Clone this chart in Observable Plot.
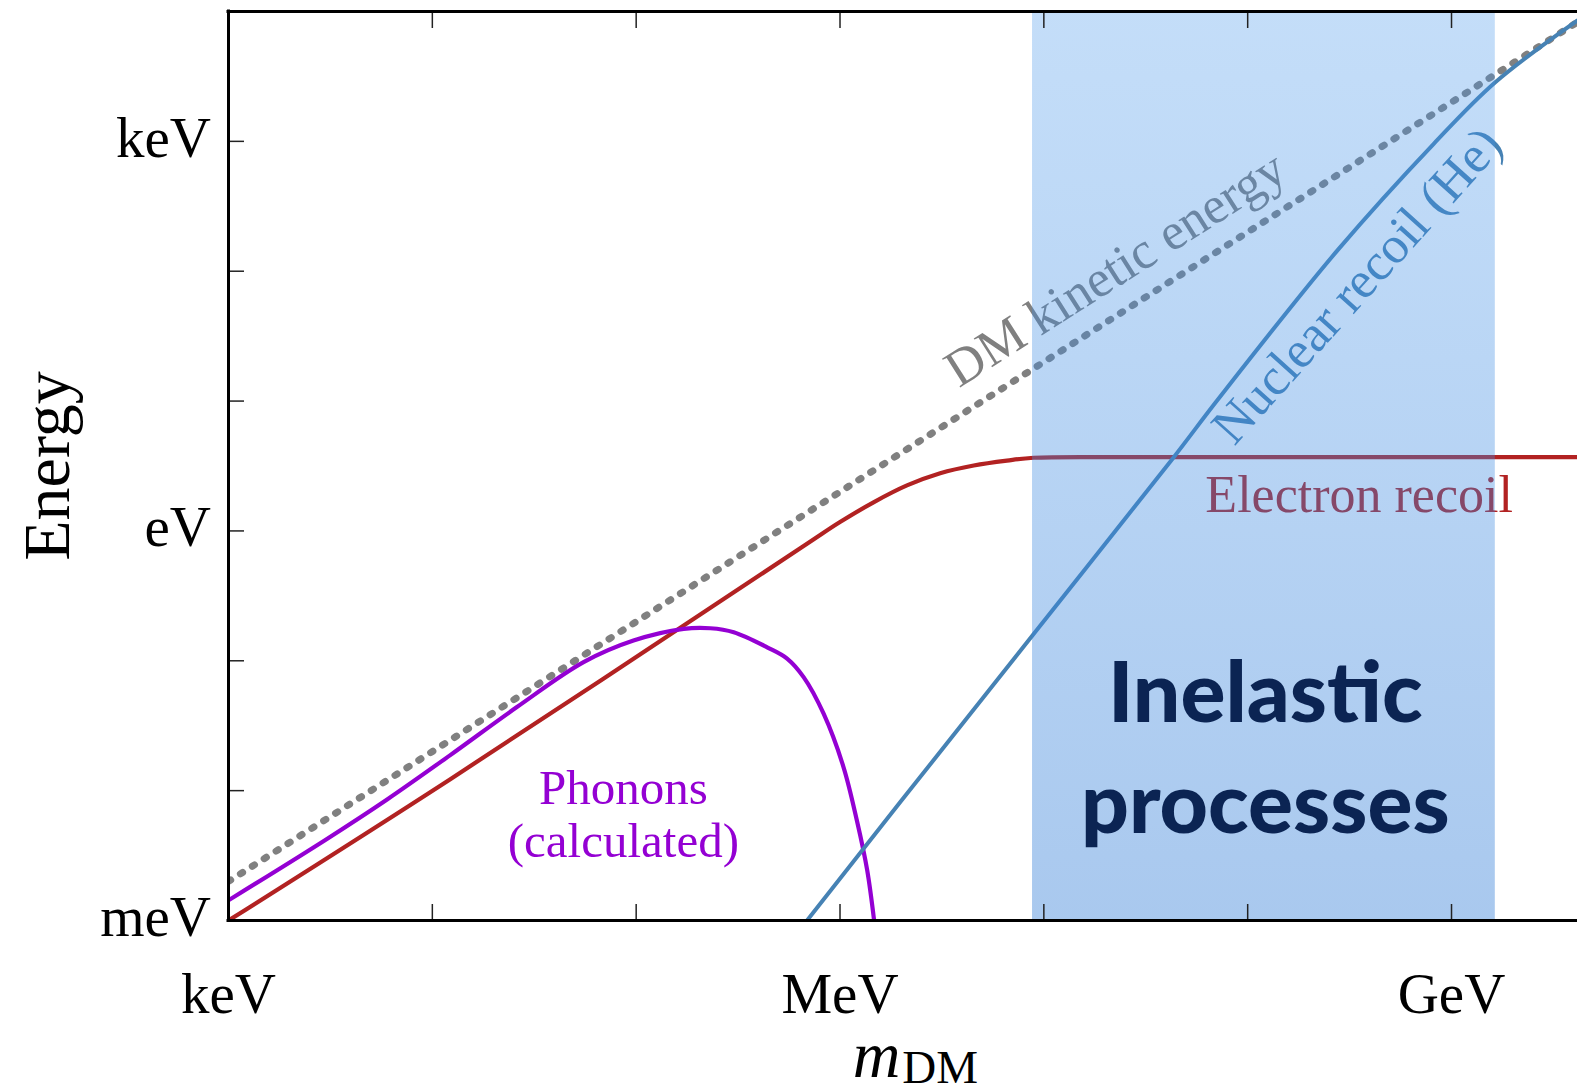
<!DOCTYPE html>
<html>
<head>
<meta charset="utf-8">
<script src="https://cdn.jsdelivr.net/npm/d3@7"></script>
<script src="https://cdn.jsdelivr.net/npm/@observablehq/plot@0.6"></script>
<style>
  html, body { margin: 0; padding: 0; background: #ffffff; }
  #chart svg { display: block; }
</style>
</head>
<body>
<div id="chart"></div>
<script>
// ---- Axis ranges and ticks (eV) ----
const massRange = [1e3, 4.15e9];
const energyRange = [1e-3, 1e4];
const xTickValues = [1e3, 1e6, 1e9];
const xTickLabels = ["keV", "MeV", "GeV"];
const yTickValues = [1e-3, 1, 1e3];
const yTickLabels = ["meV", "eV", "keV"];
const xDecadeTicks = [1e3, 1e4, 1e5, 1e6, 1e7, 1e8, 1e9];
const yDecadeTicks = [1e-3, 1e-2, 1e-1, 1, 1e1, 1e2, 1e3, 1e4];

// ---- Curves: DM mass (eV) vs energy (eV) ----
const dmMass = [1e3, 1e6, 4.15e9];
const dmEnergy = [2.0e-3, 2.0, 8.3e3];

const electronMass = [1e3, 1.22e4, 6.89e5, 1.0e6, 1.46e6, 2.13e6, 3.10e6, 4.53e6, 6.59e6, 8.91e6, 3.0e7, 4.15e9];
const electronEnergy = [1e-3, 1.22e-2, 0.796, 1.17, 1.66, 2.24, 2.78, 3.19, 3.48, 3.66, 3.70, 3.70];

const phononMass = [1e3, 3e3, 6e3, 1.22e4, 2.60e4, 5.52e4, 9.70e4, 1.71e5, 2.31e5, 3.01e5, 4.39e5, 5.50e5, 6.63e5, 8.31e5, 1.04e6, 1.21e6, 1.36e6, 1.51e6];
const phononEnergy = [1.43e-3, 4.19e-3, 8.55e-3, 1.87e-2, 4.40e-2, 9.75e-2, 0.143, 0.176, 0.178, 0.166, 0.127, 0.104, 7.48e-2, 3.91e-2, 1.52e-2, 5.89e-3, 2.43e-3, 7.0e-4];

const nuclearMass = [6.89e5, 1.98e6, 8.81e6, 4.34e7, 7.08e7, 2.75e8, 8.18e8, 1.64e9, 4.15e9];
const nuclearEnergy = [1e-3, 8.2e-3, 0.157, 3.70, 10.1, 144, 957, 2.85e3, 8.53e3];

// Inelastic region (DM mass, eV)
const inelasticRange = [8.8e6, 1.64e9];

// ---- Build tables ----
const zip = (xs, ys) => xs.map((x, i) => ({m: x, E: ys[i]}));
const dmData = zip(dmMass, dmEnergy);
const electronData = zip(electronMass, electronEnergy);
const phononData = zip(phononMass, phononEnergy);
const nuclearData = zip(nuclearMass, nuclearEnergy);

const serif = "'Liberation Serif', 'Times New Roman', serif";
const sans = "Lato, 'Open Sans', sans-serif";

const gradientDefs = () => {
  const defs = d3.create("svg:defs");
  const g = defs.append("linearGradient").attr("id", "inelasticShade")
    .attr("x1", 0).attr("y1", 0).attr("x2", 0).attr("y2", 1);
  g.append("stop").attr("offset", "0%").attr("stop-color", "rgb(70,150,235)").attr("stop-opacity", 0.32);
  g.append("stop").attr("offset", "100%").attr("stop-color", "rgb(50,125,215)").attr("stop-opacity", 0.42);
  return defs.node();
};

const chart = Plot.plot({
  width: 1577,
  height: 1092,
  marginLeft: 228,
  marginRight: 0,
  marginTop: 11,
  marginBottom: 172,
  style: {background: "white", color: "black", fontFamily: serif},
  x: {type: "log", domain: massRange},
  y: {type: "log", domain: energyRange},
  marks: [
    gradientDefs,
    // curves
    Plot.line(dmData, {x: "m", y: "E", stroke: "#808080", strokeWidth: 7, strokeDasharray: "2.6,11.5", clip: true}),
    Plot.line(electronData, {x: "m", y: "E", stroke: "#b22222", strokeWidth: 4.2, curve: "catmull-rom", clip: true}),
    Plot.line(phononData, {x: "m", y: "E", stroke: "#9400d3", strokeWidth: 4.2, curve: "catmull-rom", clip: true}),
    Plot.line(nuclearData, {x: "m", y: "E", stroke: "#4682b4", strokeWidth: 4, curve: "catmull-rom", clip: true}),
    // curve labels
    Plot.text(["DM kinetic energy"], {x: () => 2.24e7, y: () => 104, text: d => d, rotate: -32.5,
      fill: "#808080", fontSize: 52, fontFamily: serif, textAnchor: "middle", lineAnchor: "middle"}),
    Plot.text(["Nuclear recoil (He)"], {x: () => 3.44e8, y: () => 77.6, text: d => d, rotate: -48,
      fill: "#4682b4", fontSize: 52, fontFamily: serif, textAnchor: "middle", lineAnchor: "middle"}),
    Plot.text(["Electron recoil"], {x: () => 6.2e7, y: () => 1.39, text: d => d,
      fill: "#b22222", fontSize: 52, fontFamily: serif, textAnchor: "start", lineAnchor: "bottom"}),
    Plot.text(["Phonons"], {x: () => 8.65e4, y: () => 7.96e-3, text: d => d,
      fill: "#9400d3", fontSize: 49, fontFamily: serif, textAnchor: "middle", lineAnchor: "bottom"}),
    Plot.text(["(calculated)"], {x: () => 8.65e4, y: () => 3.11e-3, text: d => d,
      fill: "#9400d3", fontSize: 49, fontFamily: serif, textAnchor: "middle", lineAnchor: "bottom"}),
    // shaded inelastic region
    Plot.rect([inelasticRange], {x1: d => d[0], x2: d => d[1], fill: "url(#inelasticShade)"}),
    Plot.text(["Inelastic\nprocesses"], {x: () => 1.22e8, y: () => 4.76e-3, text: d => d,
      fill: "#0b2453", fontSize: 84, fontWeight: 900, fontFamily: sans, textAnchor: "middle", lineAnchor: "bottom", lineHeight: 1.32}),
    // inward ticks
    Plot.axisX(xDecadeTicks, {anchor: "bottom", label: null, tickSize: -16, tickFormat: () => "", strokeWidth: 1.5, stroke: "#222"}),
    Plot.axisX(xDecadeTicks, {anchor: "top", label: null, tickSize: -16, tickFormat: () => "", strokeWidth: 1.5, stroke: "#222"}),
    Plot.axisY(yDecadeTicks, {anchor: "left", label: null, tickSize: -16, tickFormat: () => "", strokeWidth: 1.5, stroke: "#222"}),
    // frame
    Plot.ruleY([energyRange[0]], {stroke: "black", strokeWidth: 3, strokeLinecap: "square"}),
    Plot.ruleY([energyRange[1]], {stroke: "black", strokeWidth: 3, strokeLinecap: "square"}),
    Plot.ruleX([massRange[0]], {stroke: "black", strokeWidth: 3, strokeLinecap: "square"}),
    // tick labels
    Plot.axisX(xTickValues, {anchor: "bottom", label: null, tickSize: 0, tickPadding: 52, fontSize: 57, fontFamily: serif,
      tickFormat: d => xTickLabels[xTickValues.indexOf(d)], fill: "black"}),
    Plot.axisY(yTickValues, {anchor: "left", label: null, tickSize: 0, tickPadding: 17.5, fontSize: 57, fontFamily: serif,
      tickFormat: d => yTickLabels[yTickValues.indexOf(d)], fill: "black", dy: -3}),
    // axis titles
    Plot.text(["Energy"], {frameAnchor: "left", text: d => d, rotate: -90, dx: -160, fontSize: 66,
      fontFamily: serif, fill: "black", textAnchor: "middle", lineAnchor: "bottom"}),
    Plot.text(["m"], {frameAnchor: "bottom", text: d => d, dx: -2.5, dy: 156, fontSize: 66, fontStyle: "italic",
      fontFamily: serif, fill: "black", textAnchor: "end", lineAnchor: "bottom"}),
    Plot.text(["DM"], {frameAnchor: "bottom", text: d => d, dx: -0.8, dy: 162, fontSize: 47,
      fontFamily: serif, fill: "black", textAnchor: "start", lineAnchor: "bottom"})
  ]
});
document.getElementById("chart").append(chart);
</script>
</body>
</html>
